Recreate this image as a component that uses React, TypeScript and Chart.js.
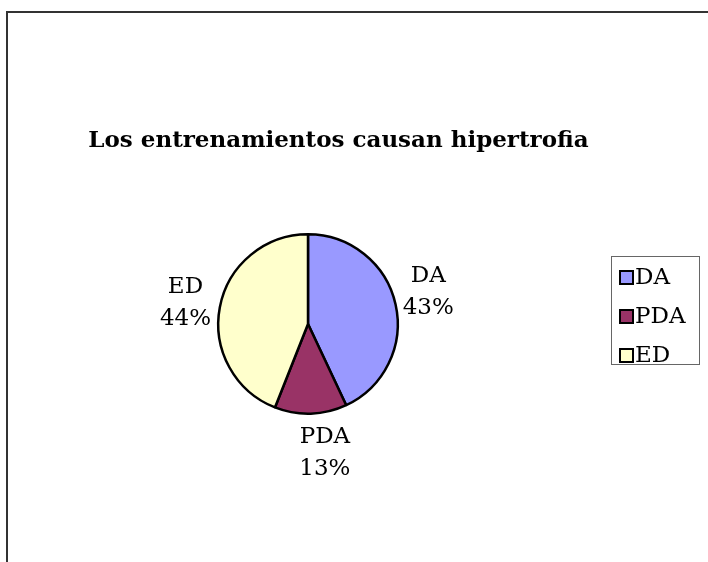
import React, { useEffect, useRef } from "react";
import { Chart, registerables } from "chart.js";

Chart.register(...registerables);

const categories = ["DA", "PDA", "ED"];
const values = [43, 13, 44];
const sliceColors = ["#9999FF", "#993366", "#FFFFCC"];
const chartTitle = "Los entrenamientos causan hipertrofia";

const SERIF = "'DejaVu Serif', serif";

const decorPlugin = {
  id: "decor",
  beforeDraw(chart: any) {
    const ctx = chart.ctx;
    ctx.save();
    ctx.fillStyle = "#ffffff";
    ctx.fillRect(0, 0, chart.width, chart.height);
    // outer frame (top and left visible)
    ctx.strokeStyle = "#333333";
    ctx.lineWidth = 2;
    ctx.beginPath();
    ctx.moveTo(7, chart.height);
    ctx.lineTo(7, 12);
    ctx.lineTo(chart.width, 12);
    ctx.stroke();
    ctx.restore();
  },
  afterDraw(chart: any) {
    const ctx = chart.ctx;
    const ds = chart.data.datasets[0];
    const labels = chart.data.labels as string[];
    const data = ds.data as number[];
    const total = data.reduce((a: number, b: number) => a + b, 0);
    ctx.save();

    // title
    ctx.fillStyle = "#000";
    ctx.font = `bold 23px ${SERIF}`;
    ctx.textAlign = "center";
    ctx.textBaseline = "alphabetic";
    ctx.fillText(chartTitle, 338.5, 147);

    // data labels
    const nudges = [
      [-1.5, -4.5],
      [13, 4.5],
      [0, 2.5],
    ];
    const meta = chart.getDatasetMeta(0);
    ctx.font = `23px ${SERIF}`;
    ctx.textBaseline = "middle";
    meta.data.forEach((arc: any, i: number) => {
      const p = arc.getProps(["x", "y", "startAngle", "endAngle", "outerRadius"], true);
      const mid = (p.startAngle + p.endAngle) / 2;
      const d = p.outerRadius + 35;
      const cx = p.x + Math.cos(mid) * d + nudges[i][0];
      const cy = p.y + Math.sin(mid) * d + nudges[i][1];
      const pct = Math.round((data[i] / total) * 100) + "%";
      ctx.fillText(labels[i], cx, cy - 16);
      ctx.fillText(pct, cx, cy + 16);
    });

    // legend
    const lx = 611, ly = 256, lw = 88, lh = 108;
    ctx.strokeStyle = "#666666";
    ctx.lineWidth = 1;
    ctx.strokeRect(lx + 0.5, ly + 0.5, lw, lh);
    ctx.textAlign = "left";
    labels.forEach((lab, i) => {
      const rowY = ly + 21.5 + i * 39;
      ctx.fillStyle = (ds.backgroundColor as string[])[i];
      ctx.fillRect(620, rowY - 6.5, 13, 13);
      ctx.strokeStyle = "#000";
      ctx.lineWidth = 2;
      ctx.strokeRect(620, rowY - 6.5, 13, 13);
      ctx.fillStyle = "#000";
      ctx.fillText(lab, 635, rowY + 1);
    });
    ctx.restore();
  },
};

export default function App() {
  const ref = useRef<HTMLCanvasElement>(null);
  useEffect(() => {
    if (!ref.current) return;
    const chart = new Chart(ref.current, {
      type: "pie",
      data: {
        labels: categories,
        datasets: [
          {
            data: values,
            backgroundColor: sliceColors,
            borderColor: "#000000",
            borderWidth: 2.5,
          },
        ],
      },
      options: {
        responsive: false,
        animation: false,
        devicePixelRatio: 1,
        layout: { padding: { left: 217, right: 309, top: 233, bottom: 147 } },
        plugins: {
          legend: { display: false },
          title: { display: false },
          tooltip: { enabled: false },
        },
      },
      plugins: [decorPlugin],
    });
    return () => chart.destroy();
  }, []);
  return (
    <div style={{ position: "fixed", left: 0, top: 0, width: 708, height: 562, background: "#fff" }}>
      <canvas ref={ref} width={708} height={562} style={{ display: "block" }} />
    </div>
  );
}
